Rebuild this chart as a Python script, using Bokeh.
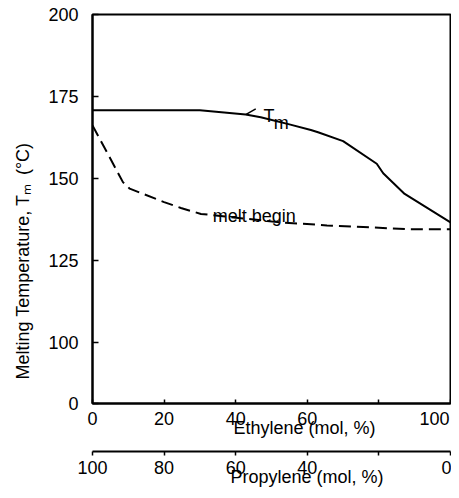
from bokeh.plotting import figure
from bokeh.models import LinearAxis, Range1d, FixedTicker, Title, Label
from bokeh.embed import file_html
from bokeh.resources import INLINE

# ---- data ----
ethylene_tm = [0, 30, 42.8, 47, 55, 61, 63, 70, 79.4, 81.2, 87.2, 100]
tm_values = [170.8, 170.8, 169.5, 168.7, 166.5, 164.8, 164.1, 161.4, 154.5, 151.6, 145.3, 136.6]

ethylene_mb = [0, 8.5, 10.4, 20, 24.7, 30.3, 43.2, 51.6, 65.5, 75.6, 88.6, 100]
mb_values = [166.2, 148.9, 146.9, 142.8, 141.0, 139.2, 137.7, 136.7, 135.7, 135.2, 134.5, 134.5]

y_bottom = 81.4          # broken axis: bottom of frame is labelled "0"
y_ticks = [100, 125, 150, 175, 200]
x_ticks = [0, 20, 40, 60, 80, 100]
x_last_label = "100"
prop_ticks = [0, 20, 40, 60, 80, 100]

tm_pointer_x = [42.8, 45.6]
tm_pointer_y = [169.5, 171.25]

FONT = "Liberation Sans"
FS = "18px"

p = figure(width=451, height=490, x_range=Range1d(0, 100), y_range=Range1d(y_bottom, 200),
           output_backend="svg", toolbar_location=None,
           min_border_left=91, min_border_right=1, min_border_top=14, min_border_bottom=87)
p.grid.visible = False
p.outline_line_color = "black"
p.outline_line_width = 2
p.background_fill_color = "white"
p.border_fill_color = "white"


def style_axis(ax):
    ax.minor_tick_line_color = None
    ax.axis_line_width = 2
    ax.major_tick_line_width = 1.5
    ax.major_label_text_font = FONT
    ax.major_label_text_font_size = FS
    ax.major_label_text_color = "black"


def title(text, **kw):
    return Title(text=text, text_font=FONT, text_font_size=FS, text_font_style="normal",
                 text_color="black", **kw)


# y axis
ya = p.yaxis[0]
ya.ticker = FixedTicker(ticks=[y_bottom] + y_ticks)
ya.major_label_overrides = {y_bottom: "0"}
ya.major_tick_in = 6
ya.major_tick_out = 0
ya.major_label_standoff = 14
style_axis(ya)

p.add_layout(title("Melting Temperature, Tₘ\u2002(°C)", align="left", offset=24,
                   vertical_align="middle", standoff=23), "left")

# x axis (ethylene): tick labels; the last one is drawn as a title so it can sit inside the canvas
xa = p.xaxis[0]
xa.ticker = FixedTicker(ticks=x_ticks)
xa.major_label_overrides = {80: "", 100: ""}
xa.major_tick_in = 4
xa.major_tick_out = 0
xa.major_label_standoff = 8
style_axis(xa)

# invisible spacer between the two x axes
spacer = LinearAxis(ticker=FixedTicker(ticks=[50]), axis_line_color=None, major_tick_line_color=None,
                    minor_tick_line_color=None, major_label_text_color=None,
                    major_tick_in=0, major_tick_out=24)
p.add_layout(spacer, "below")

# second x axis (propylene)
p.extra_x_ranges = {"prop": Range1d(100, 0)}
xb = LinearAxis(x_range_name="prop", ticker=FixedTicker(ticks=prop_ticks))
xb.major_label_overrides = {20: ""}
xb.major_tick_in = 0
xb.major_tick_out = 4
xb.major_label_standoff = 5
style_axis(xb)
p.add_layout(xb, "below")

p.add_layout(title("Propylene (mol, %)", align="left", offset=138, vertical_align="top", standoff=-19), "below")
# these two are lifted back up next to the first axis (negative standoff)
p.add_layout(title("Ethylene (mol, %)", align="left", offset=141, vertical_align="top", standoff=-124), "below")
p.add_layout(title(x_last_label, align="left", offset=327, vertical_align="top", standoff=-136), "below")

# curves
p.line(ethylene_tm, tm_values, line_color="black", line_width=2)
p.line(ethylene_mb, mb_values, line_color="black", line_width=2, line_dash="12 6")
p.line(tm_pointer_x, tm_pointer_y, line_color="black", line_width=1.5)

p.add_layout(Label(x=47.8, y=169.2, text="T", text_baseline="alphabetic",
                   text_font=FONT, text_font_size=FS, text_color="black"))
p.add_layout(Label(x=50.6, y=166.9, text="m", text_baseline="alphabetic",
                   text_font=FONT, text_font_size=FS, text_color="black"))
p.add_layout(Label(x=33.6, y=138.7, text="melt begin", text_baseline="alphabetic",
                   text_font=FONT, text_font_size=FS, text_color="black"))

open("out.html", "w").write(file_html(p, INLINE))
